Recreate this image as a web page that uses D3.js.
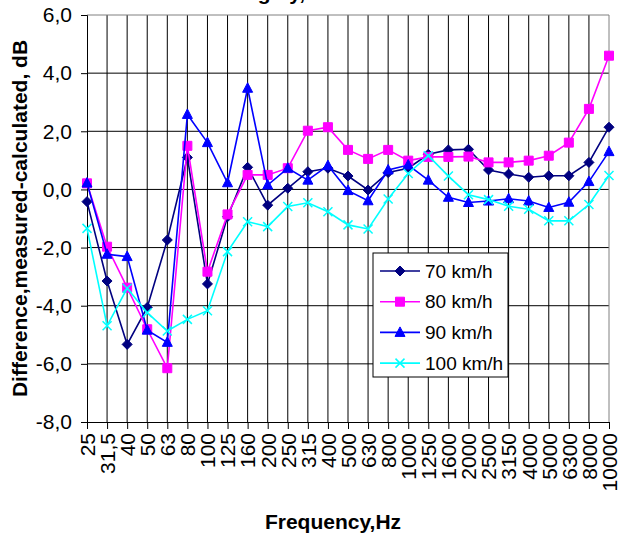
<!DOCTYPE html>
<html>
<head>
<meta charset="utf-8">
<script src="https://cdn.jsdelivr.net/npm/d3@7"></script>
<style>
  html, body { margin: 0; padding: 0; background: #fff; }
  svg { display: block; font-family: "Liberation Sans", Arial, sans-serif; }
</style>
</head>
<body>
<svg id="chart" width="618" height="536"></svg>
<script>
// Third-octave band centre frequencies (Hz)
const categories = ["25","31,5","40","50","63","80","100","125","160","200","250","315","400","500","630","800","1000","1250","1600","2000","2500","3150","4000","5000","6300","8000","10000"];

// Difference measured - calculated (dB) per vehicle speed
const speed70 = [-0.42,-3.15,-5.33,-4.06,-1.74,1.10,-3.25,-0.94,0.76,-0.54,0.04,0.61,0.73,0.46,-0.02,0.58,0.73,1.21,1.36,1.38,0.67,0.53,0.42,0.47,0.47,0.93,2.14];
const speed80 = [0.21,-1.97,-3.38,-4.81,-6.15,1.50,-2.83,-0.86,0.50,0.50,0.73,2.02,2.14,1.36,1.05,1.36,0.99,1.12,1.12,1.13,0.93,0.93,0.99,1.16,1.61,2.77,4.60];
const speed90 = [0.22,-2.23,-2.31,-4.84,-5.26,2.58,1.61,0.23,3.48,0.15,0.73,0.32,0.82,-0.04,-0.39,0.67,0.84,0.32,-0.27,-0.45,-0.40,-0.32,-0.40,-0.62,-0.44,0.27,1.30];
const speed100 = [-1.34,-4.69,-3.40,-4.24,-4.87,-4.47,-4.17,-2.14,-1.11,-1.28,-0.59,-0.46,-0.77,-1.22,-1.36,-0.33,0.55,1.16,0.46,-0.18,-0.35,-0.58,-0.68,-1.08,-1.08,-0.52,0.48];

const seriesNames = ["70 km/h","80 km/h","90 km/h","100 km/h"];
const yTicks = [-8,-6,-4,-2,0,2,4,6];

const series = [
  { name: seriesNames[0], values: speed70,  color: "#000080", marker: "diamond" },
  { name: seriesNames[1], values: speed80,  color: "#FF00FF", marker: "square" },
  { name: seriesNames[2], values: speed90,  color: "#0000FF", marker: "triangle" },
  { name: seriesNames[3], values: speed100, color: "#00FFFF", marker: "cross" }
];

const svg = d3.select("#chart");
const plot = { left: 87, right: 609, top: 15, bottom: 422 };

const x = d3.scalePoint().domain(categories).range([plot.left, plot.right]);
const y = d3.scaleLinear().domain([-8, 6]).range([plot.bottom, plot.top]);

const locale = d3.formatLocale({ decimal: ",", thousands: ".", grouping: [3], currency: ["", ""], minus: "-" });
const fmt = locale.format(".1f");

// Title (sits above the top edge; only its descenders reach the canvas)
svg.append("text")
  .attr("x", 190).attr("y", -0.5)
  .attr("font-size", 21).attr("font-weight", "bold")
  .text("Passing by, measured levels");

// Gridlines
const grid = svg.append("g");
grid.selectAll("line.h").data(yTicks.filter(d => d > -8 && d < 6)).join("line")
  .attr("x1", plot.left).attr("x2", plot.right)
  .attr("y1", d => y(d)).attr("y2", d => y(d))
  .attr("stroke", "#000").attr("stroke-width", 1);
grid.selectAll("line.v").data(categories.slice(1, -1)).join("line")
  .attr("x1", d => x(d)).attr("x2", d => x(d))
  .attr("y1", plot.top).attr("y2", plot.bottom)
  .attr("stroke", "#000").attr("stroke-width", 1);

// Plot-area frame (top and right)
svg.append("path")
  .attr("d", `M${plot.left},${plot.top}H${plot.right}V${plot.bottom}`)
  .attr("fill", "none").attr("stroke", "#808080").attr("stroke-width", 1);

// Y axis
const yAxis = d3.axisLeft(y).tickValues(yTicks).tickFormat(fmt).tickSize(6).tickPadding(9);
const gy = svg.append("g").attr("transform", `translate(${plot.left},0)`).call(yAxis);
gy.select(".domain").attr("stroke", "#000");
gy.selectAll(".tick line").attr("stroke", "#000");
gy.selectAll(".tick text").attr("font-size", 21).attr("fill", "#000")
  .attr("font-family", "'Liberation Sans', Arial, sans-serif");

// X axis
const xAxis = d3.axisBottom(x).tickSize(7).tickPadding(0);
const gx = svg.append("g").attr("transform", `translate(0,${plot.bottom})`).call(xAxis);
gx.select(".domain").attr("stroke", "#000");
gx.selectAll(".tick line").attr("stroke", "#000");
gx.selectAll(".tick text")
  .attr("font-size", 21).attr("fill", "#000")
  .attr("font-family", "'Liberation Sans', Arial, sans-serif")
  .attr("text-anchor", "end")
  .attr("dy", "0.35em")
  .attr("transform", "translate(0,11) rotate(-90)")
  .attr("x", 0).attr("y", 0);

// Axis titles
svg.append("text")
  .attr("x", 333).attr("y", 529)
  .attr("text-anchor", "middle")
  .attr("font-size", 21).attr("font-weight", "bold")
  .text("Frequency,Hz");
svg.append("text")
  .attr("transform", `translate(27,${(plot.top + plot.bottom) / 2}) rotate(-90)`)
  .attr("text-anchor", "middle")
  .attr("font-size", 21).attr("font-weight", "bold")
  .text("Difference,measured-calculated, dB");

// Marker shapes
function markerPath(type) {
  switch (type) {
    case "diamond": return "M0,-5L5,0L0,5L-5,0Z";
    case "square": return "M-4.5,-4.5H4.5V4.5H-4.5Z";
    case "triangle": return "M0,-5.5L5,4L-5,4Z";
    case "cross": return "M-4.5,-4.5L4.5,4.5M-4.5,4.5L4.5,-4.5";
  }
}
function drawMarker(g, type, color) {
  const p = g.append("path").attr("d", markerPath(type));
  if (type === "cross") p.attr("fill", "none").attr("stroke", color).attr("stroke-width", 1.5);
  else p.attr("fill", color).attr("stroke", color).attr("stroke-width", 1);
}

// Series lines and markers
const line = d3.line().x((d, i) => x(categories[i])).y(d => y(d));
series.forEach(s => {
  const g = svg.append("g");
  g.append("path").datum(s.values)
    .attr("d", line).attr("fill", "none")
    .attr("stroke", s.color).attr("stroke-width", 1.6);
  s.values.forEach((v, i) => {
    const m = g.append("g").attr("transform", `translate(${x(categories[i])},${y(v)})`);
    drawMarker(m, s.marker, s.color);
  });
});

// Legend
const legend = svg.append("g").attr("transform", "translate(373,253)");
legend.append("rect").attr("x", 0).attr("y", 0).attr("width", 135).attr("height", 124)
  .attr("fill", "#fff").attr("stroke", "#000").attr("stroke-width", 1);
series.forEach((s, i) => {
  const ey = 18 + i * 30.7;
  const row = legend.append("g").attr("transform", `translate(0,${ey})`);
  row.append("line").attr("x1", 7).attr("x2", 47).attr("y1", 0).attr("y2", 0)
    .attr("stroke", s.color).attr("stroke-width", 1.6);
  drawMarker(row.append("g").attr("transform", "translate(27,0)"), s.marker, s.color);
  row.append("text").attr("x", 52).attr("y", 0).attr("dy", "0.35em")
    .attr("font-size", 19).text(s.name);
});
</script>
</body>
</html>
